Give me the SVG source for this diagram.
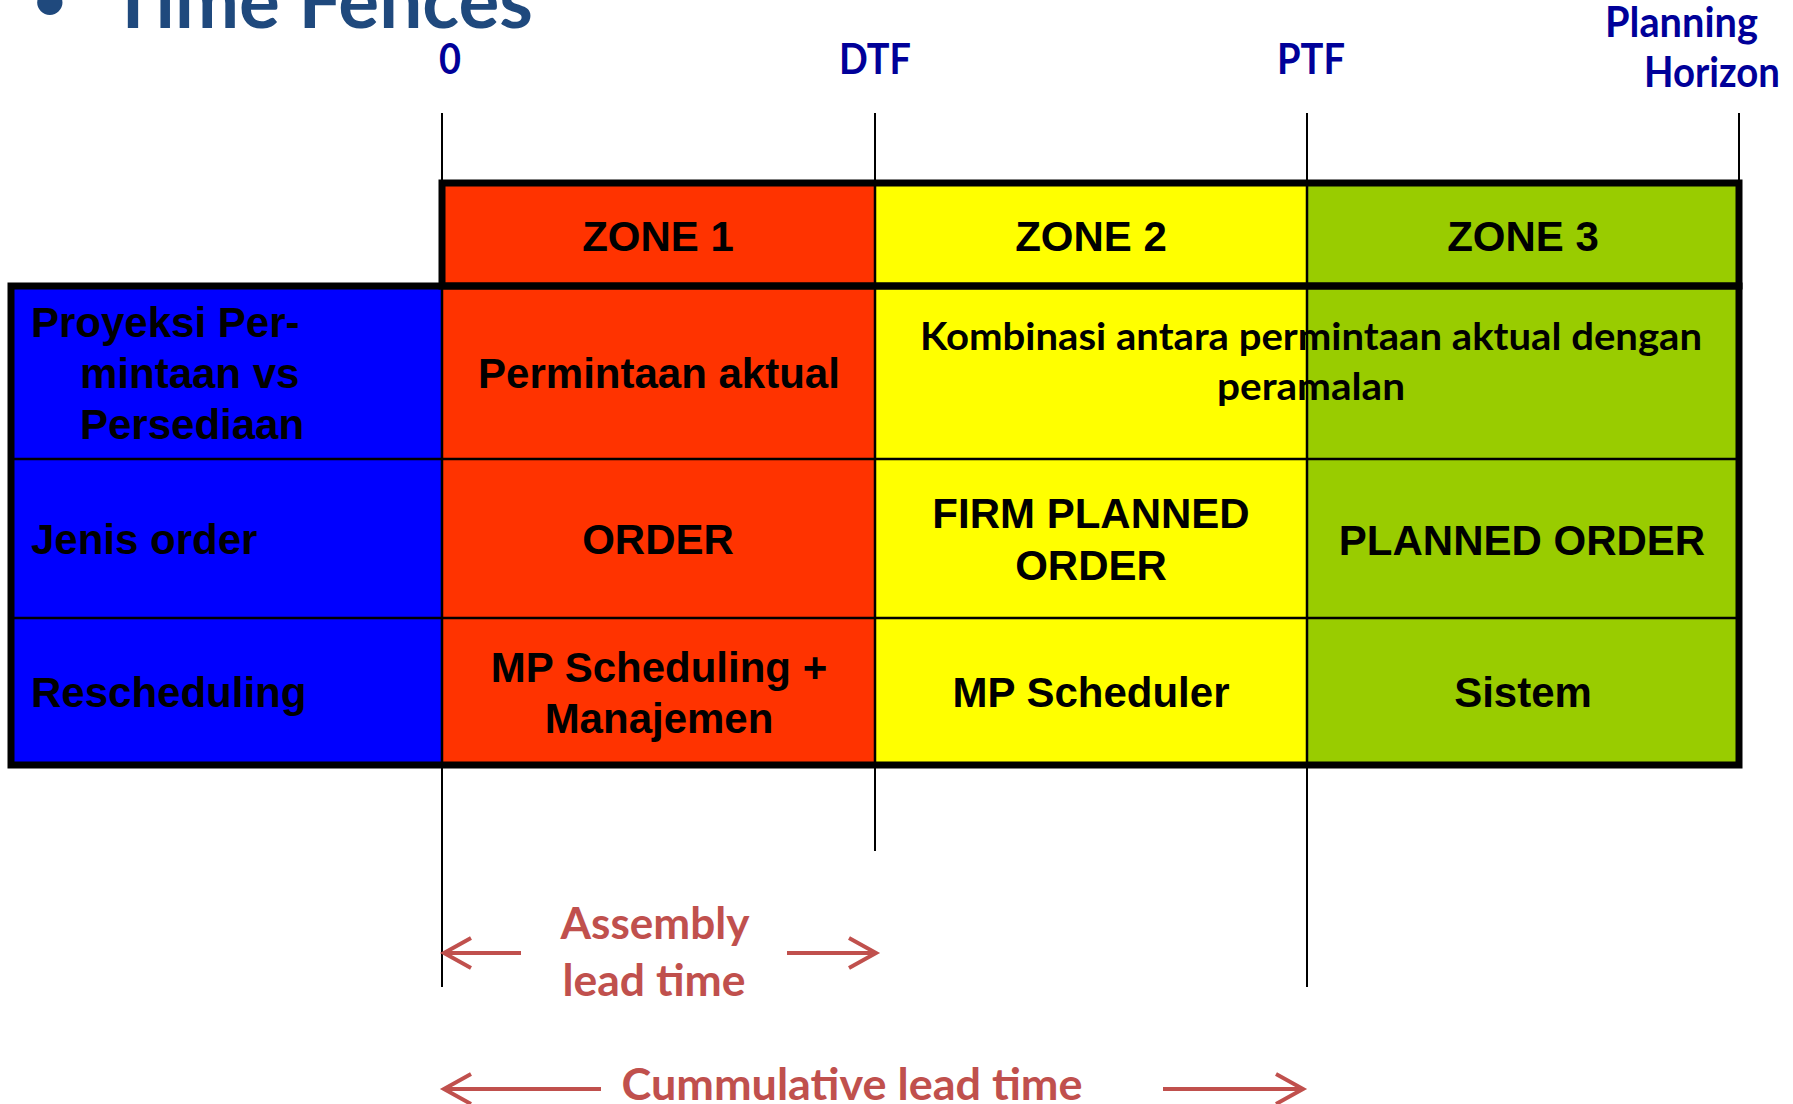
<svg xmlns="http://www.w3.org/2000/svg" width="1793" height="1104" viewBox="0 0 1793 1104">
  <style>
    .tbl { font-family: "Liberation Sans", Arial, sans-serif; font-weight: bold; font-size: 42px; fill: #000; }
    .mid { text-anchor: middle; }
    .cal { font-family: Lato, "Open Sans", sans-serif; font-weight: bold; }
    .fence-label { fill: #000099; font-size: 42px; }
    .lt { fill: #C0504D; font-size: 43px; }
    .thin { stroke: #000; stroke-width: 2.5; fill: none; }
    .fence { stroke: #000; stroke-width: 2; fill: none; }
    .thick { stroke: #000; stroke-width: 7; fill: none; }
    .arrow { stroke: #C0504D; stroke-width: 4; fill: none; stroke-linecap: butt; stroke-linejoin: miter; }
  </style>

  <rect x="0" y="0" width="1793" height="1104" fill="#fff"/>

  <!-- Title -->
  <g id="title">
    <text class="cal" x="33" y="20" font-size="58" fill="#1F497D">•</text>
    <text class="cal" x="110" y="28" font-size="76" fill="#1F497D" textLength="423" lengthAdjust="spacingAndGlyphs">Time Fences</text>
  </g>

  <!-- Fence labels -->
  <g id="label-0"><text class="cal fence-label mid" x="450" y="74" textLength="22" lengthAdjust="spacingAndGlyphs">0</text></g>
  <g id="label-dtf"><text class="cal fence-label mid" x="875" y="74" textLength="72" lengthAdjust="spacingAndGlyphs">DTF</text></g>
  <g id="label-ptf"><text class="cal fence-label mid" x="1311" y="74" textLength="68" lengthAdjust="spacingAndGlyphs">PTF</text></g>
  <g id="label-horizon">
    <text class="cal fence-label" x="1605" y="37" font-size="38" textLength="153" lengthAdjust="spacingAndGlyphs">Planning</text>
    <text class="cal fence-label" x="1644" y="87" font-size="38" textLength="136" lengthAdjust="spacingAndGlyphs">Horizon</text>
  </g>

  <!-- Cell fills -->
  <g id="fills">
    <rect x="11" y="286" width="431" height="479" fill="#0000FF"/>
    <rect x="442" y="183" width="433" height="582" fill="#FF3300"/>
    <rect x="875" y="183" width="432" height="582" fill="#FFFF00"/>
    <rect x="1307" y="183" width="432" height="582" fill="#99CC00"/>
  </g>

  <!-- Grid lines -->
  <g id="grid">
    <line class="thin" x1="442" y1="286" x2="442" y2="765"/>
    <line class="thin" x1="875" y1="183" x2="875" y2="765"/>
    <line class="thin" x1="1307" y1="183" x2="1307" y2="765"/>
    <line class="thin" x1="11" y1="459" x2="1739" y2="459"/>
    <line class="thin" x1="11" y1="618" x2="1739" y2="618"/>
    <rect class="thick" x="442" y="183" width="1297" height="103"/>
    <rect class="thick" x="11" y="286" width="1728" height="479"/>
  </g>

  <!-- Zone headers -->
  <g id="zone-1"><text class="tbl mid" x="658" y="251">ZONE 1</text></g>
  <g id="zone-2"><text class="tbl mid" x="1091" y="251">ZONE 2</text></g>
  <g id="zone-3"><text class="tbl mid" x="1523" y="251">ZONE 3</text></g>

  <!-- Row: demand -->
  <g id="row-demand-label">
    <text class="tbl" x="31" y="337">Proyeksi Per-</text>
    <text class="tbl" x="80" y="388">mintaan vs</text>
    <text class="tbl" x="80" y="439">Persediaan</text>
  </g>
  <g id="row-demand-zone1"><text class="tbl mid" x="659" y="388">Permintaan aktual</text></g>
  <g id="row-demand-zone23">
    <text class="cal mid" x="1311" y="350" font-size="38" textLength="782" lengthAdjust="spacingAndGlyphs">Kombinasi antara permintaan aktual dengan</text>
    <text class="cal mid" x="1311" y="400" font-size="38" textLength="188" lengthAdjust="spacingAndGlyphs">peramalan</text>
  </g>

  <!-- Row: order type -->
  <g id="row-order-label"><text class="tbl" x="31" y="554">Jenis order</text></g>
  <g id="row-order-zone1"><text class="tbl mid" x="658" y="554">ORDER</text></g>
  <g id="row-order-zone2">
    <text class="tbl mid" x="1091" y="528">FIRM PLANNED</text>
    <text class="tbl mid" x="1091" y="580">ORDER</text>
  </g>
  <g id="row-order-zone3"><text class="tbl mid" x="1522" y="555">PLANNED ORDER</text></g>

  <!-- Row: rescheduling -->
  <g id="row-resched-label"><text class="tbl" x="31" y="707">Rescheduling</text></g>
  <g id="row-resched-zone1">
    <text class="tbl mid" x="659" y="682">MP Scheduling +</text>
    <text class="tbl mid" x="659" y="733">Manajemen</text>
  </g>
  <g id="row-resched-zone2"><text class="tbl mid" x="1091" y="707">MP Scheduler</text></g>
  <g id="row-resched-zone3"><text class="tbl mid" x="1523" y="707">Sistem</text></g>

  <!-- Connectors: fence lines and lead-time arrows -->
  <g id="connectors">
    <line class="fence" x1="442" y1="113" x2="442" y2="183"/>
    <line class="fence" x1="875" y1="113" x2="875" y2="183"/>
    <line class="fence" x1="1307" y1="113" x2="1307" y2="183"/>
    <line class="fence" x1="1739" y1="113" x2="1739" y2="183"/>
    <line class="fence" x1="442" y1="765" x2="442" y2="987"/>
    <line class="fence" x1="875" y1="765" x2="875" y2="851"/>
    <line class="fence" x1="1307" y1="765" x2="1307" y2="987"/>

    <path class="arrow" d="M521,953 H444 M471,938 L444,953 L471,968"/>
    <path class="arrow" d="M787,953 H874 M849,938 L876,953 L849,968"/>
    <path class="arrow" d="M601,1089 H446 M471,1074 L444,1089 L471,1104"/>
    <path class="arrow" d="M1163,1089 H1301 M1276,1074 L1303,1089 L1276,1104"/>
  </g>

  <g id="assembly-label">
    <text class="cal lt mid" x="655" y="939" textLength="189" lengthAdjust="spacingAndGlyphs">Assembly</text>
    <text class="cal lt mid" x="654" y="996" textLength="183" lengthAdjust="spacingAndGlyphs">lead time</text>
  </g>
  <g id="cumulative-label">
    <text class="cal lt mid" x="852" y="1100" textLength="461" lengthAdjust="spacingAndGlyphs">Cummulative lead time</text>
  </g>
</svg>
